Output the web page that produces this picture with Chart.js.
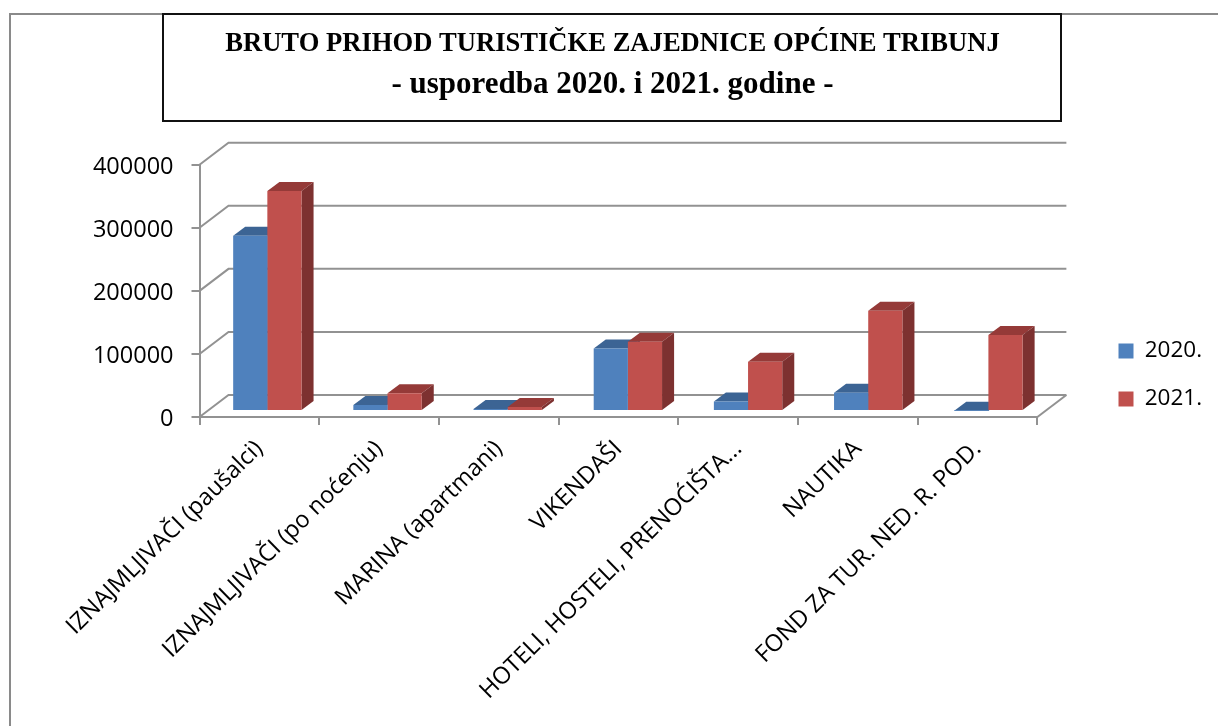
<!DOCTYPE html>
<html lang="hr">
<head>
<meta charset="UTF-8">
<title>Bruto prihod</title>
<script src="https://cdn.jsdelivr.net/npm/chart.js"></script>
<style>
  html, body { margin: 0; padding: 0; background: #fff; overflow: hidden; }
  canvas { display: block; }
</style>
</head>
<body>
<canvas id="myChart" width="1218" height="726"></canvas>
<script>
// podaci
const categories = ['IZNAJMLJIVAČI (paušalci)', 'IZNAJMLJIVAČI (po noćenju)', 'MARINA (apartmani)', 'VIKENDAŠI', 'HOTELI, HOSTELI, PRENOĆIŠTA...', 'NAUTIKA', 'FOND ZA TUR. NED. R. POD.'];
const values2020 = [278000, 9500, 3000, 99000, 15000, 29000, 500];
const values2021 = [349000, 28000, 6500, 110000, 78000, 159000, 120500];
const seriesNames = ['2020.', '2021.'];
const titleText = 'BRUTO PRIHOD TURISTIČKE ZAJEDNICE OPĆINE TRIBUNJ';
const subtitleText = '- usporedba 2020. i 2021. godine -';

const GRID = '#929292';
const wallDx = 29, wallDy = -22;   // pomak straznjeg zida
const sideDx = 12, sideDy = -9;    // dubina stupca
const faces = [
    { top: '#3c6494', side: '#37598a' },
    { top: '#953a38', side: '#7d3130' }
];

// stupci stoje malo iza prednjeg ruba poda, razmak im je neznatno veci od kategorije
function barSpace(ctx) {
    ctx.transform(1.004, 0, 0, 1, 6.96, -6);
}

const frame3d = {
    id: 'frame3d',
    // legenda i naslov nisu tamo gdje ih layout stavlja
    afterLayout(chart) {
        const lg = chart.legend;
        const w = lg.width;
        lg.left = 1093; lg.right = lg.left + w;
        lg.top += 12; lg.bottom += 12;
        chart.boxes.filter(b => b.position === 'top').forEach(b => { b.left += 61.5; });
        // brojke na y osi sjede malo nize od sredine crtice
        chart.scales.y.getLabelItems(chart.chartArea).forEach(it => {
            it.options.translation[1] += 2.5;
        });
    },
    beforeDraw(chart) {
        const { ctx } = chart;
        ctx.save();
        ctx.strokeStyle = '#8a8a8a';
        ctx.lineWidth = 2;
        ctx.beginPath();
        ctx.moveTo(10, 726);
        ctx.lineTo(10, 14);
        ctx.lineTo(1218, 14);
        ctx.stroke();
        ctx.fillStyle = '#fff';
        ctx.fillRect(163, 14, 898, 107);
        ctx.strokeStyle = '#111';
        ctx.strokeRect(163, 14, 898, 107);
        ctx.restore();
    },
    beforeDatasetsDraw(chart) {
        const { ctx, scales: { x, y } } = chart;
        ctx.save();
        ctx.strokeStyle = GRID;
        ctx.lineWidth = 2;
        y.ticks.forEach(t => {
            const py = y.getPixelForValue(t.value);
            ctx.beginPath();
            ctx.moveTo(x.left, py);
            ctx.lineTo(x.left + wallDx, py + wallDy);
            ctx.lineTo(x.right + wallDx, py + wallDy);
            ctx.stroke();
        });
        const py0 = y.getPixelForValue(0);
        ctx.beginPath();
        ctx.moveTo(x.right, py0);
        ctx.lineTo(x.right + wallDx, py0 + wallDy);
        ctx.stroke();

        // gornje i bocne plohe stupaca, prvo 2020. pa 2021.
        barSpace(ctx);
        [0, 1].forEach(i => {
            const c = faces[i];
            chart.getDatasetMeta(i).data.forEach(b => {
                const l = b.x - b.width / 2, r = b.x + b.width / 2;
                ctx.fillStyle = c.top;
                ctx.beginPath();
                ctx.moveTo(l, b.y);
                ctx.lineTo(l + sideDx, b.y + sideDy);
                ctx.lineTo(r + sideDx, b.y + sideDy);
                ctx.lineTo(r, b.y);
                ctx.fill();
                ctx.fillStyle = c.side;
                ctx.beginPath();
                ctx.moveTo(r, b.y);
                ctx.lineTo(r + sideDx, b.y + sideDy);
                ctx.lineTo(r + sideDx, b.base + sideDy);
                ctx.lineTo(r, b.base);
                ctx.fill();
            });
        });
        ctx.restore();
    },
    beforeDatasetDraw(chart) {
        chart.ctx.save();
        barSpace(chart.ctx);
    },
    afterDatasetDraw(chart) {
        chart.ctx.restore();
    }
};

new Chart(document.getElementById('myChart').getContext('2d'), {
    type: 'bar',
    data: {
        labels: categories,
        datasets: [
            { label: seriesNames[0], data: values2020, backgroundColor: '#4f81bd', categoryPercentage: 0.5687, barPercentage: 1 },
            { label: seriesNames[1], data: values2021, backgroundColor: '#c0504d', categoryPercentage: 0.5687, barPercentage: 1 }
        ]
    },
    options: {
        responsive: false,
        animation: false,
        layout: { padding: { left: 7, top: 0, right: 61.5, bottom: 0 } },
        plugins: {
            title: {
                display: true,
                text: titleText,
                color: '#000',
                font: { family: '"Liberation Serif"', size: 26.6, weight: 'bold', lineHeight: 1.52 },
                padding: { top: 24, bottom: 0 }
            },
            subtitle: {
                display: true,
                text: subtitleText,
                color: '#000',
                font: { family: '"Liberation Serif"', size: 31, weight: 'bold', lineHeight: 1.3 },
                padding: { top: 0, bottom: 60 }
            },
            legend: {
                position: 'right',
                labels: {
                    boxWidth: 15, boxHeight: 15, padding: 25.5,
                    color: '#000',
                    font: { family: '"Open Sans"', size: 22.5 }
                }
            },
            tooltip: { enabled: false }
        },
        scales: {
            x: {
                afterFit(s) { s.height = 309; },
                grid: { drawOnChartArea: false, color: GRID, lineWidth: 2, tickLength: 8 },
                border: { color: GRID, width: 2 },
                ticks: { color: '#000', font: { family: '"Open Sans"', size: 23.5 }, minRotation: 44.5, maxRotation: 44.5, autoSkip: false, padding: 10 }
            },
            y: {
                min: 0, max: 400000,
                afterFit(s) { s.width = 192.5; },
                grid: { drawOnChartArea: false, color: GRID, lineWidth: 2, tickLength: 8 },
                border: { color: GRID, width: 2 },
                ticks: { color: '#000', font: { family: '"Open Sans"', size: 23.5 }, stepSize: 100000, padding: 18, callback: v => String(v) }
            }
        }
    },
    plugins: [frame3d]
});
</script>
</body>
</html>
